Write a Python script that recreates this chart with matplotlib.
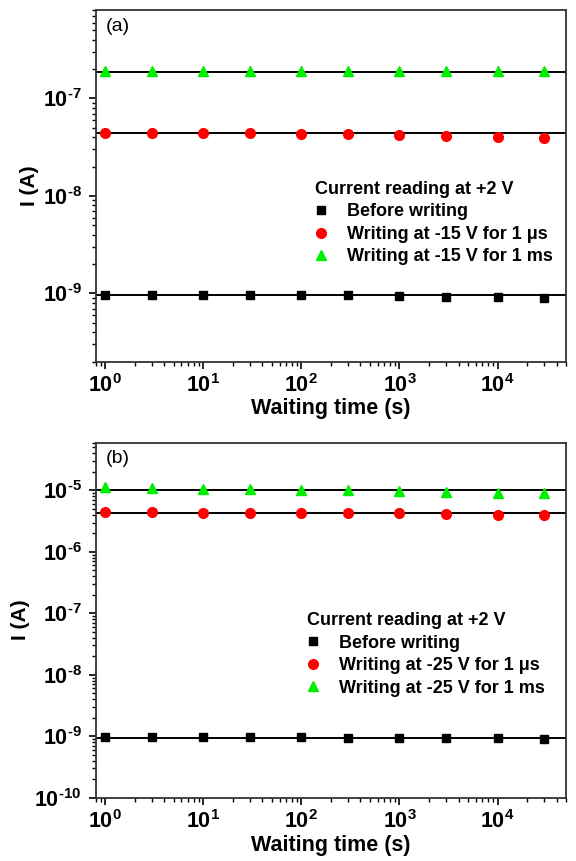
import numpy as np
import matplotlib
matplotlib.use("Agg")
import matplotlib.pyplot as plt
from matplotlib.ticker import FuncFormatter, LogLocator, NullFormatter

plt.rcParams['font.family'] = ['Liberation Sans', 'DejaVu Sans']
plt.rcParams['mathtext.fontset'] = 'custom'
plt.rcParams['mathtext.rm'] = 'Liberation Sans:bold'
plt.rcParams['mathtext.it'] = 'Liberation Sans:bold'
plt.rcParams['mathtext.bf'] = 'Liberation Sans:bold'

# ---- data ----
t = [1, 3, 10, 30, 100, 300, 1000, 3000, 10000, 30000]

a_before = [9.7e-10, 9.7e-10, 9.6e-10, 9.6e-10, 9.6e-10, 9.6e-10, 9.5e-10, 9.3e-10, 9.1e-10, 9.0e-10]
a_us = [4.4e-8, 4.4e-8, 4.4e-8, 4.4e-8, 4.35e-8, 4.3e-8, 4.25e-8, 4.15e-8, 4.05e-8, 3.95e-8]
a_ms = [1.92e-7, 1.92e-7, 1.92e-7, 1.92e-7, 1.92e-7, 1.92e-7, 1.92e-7, 1.92e-7, 1.92e-7, 1.92e-7]
a_fit = [9.6e-10, 4.4e-8, 1.85e-7]

b_before = [9.8e-10, 9.8e-10, 9.7e-10, 9.7e-10, 9.6e-10, 9.5e-10, 9.4e-10, 9.3e-10, 9.2e-10, 9.1e-10]
b_us = [4.4e-6, 4.4e-6, 4.35e-6, 4.35e-6, 4.3e-6, 4.3e-6, 4.25e-6, 4.15e-6, 4.0e-6, 3.95e-6]
b_ms = [1.12e-5, 1.1e-5, 1.07e-5, 1.05e-5, 1.02e-5, 1.0e-5, 9.6e-6, 9.4e-6, 9.0e-6, 8.9e-6]
b_fit = [9.3e-10, 4.35e-6, 1.0e-5]

legend_title = "Current reading at +2 V"
a_labels = ["Before writing", "Writing at -15 V for 1 μs", "Writing at -15 V for 1 ms"]
b_labels = ["Before writing", "Writing at -25 V for 1 μs", "Writing at -25 V for 1 ms"]

GREEN = '#00ee00'
RED = '#ff0000'

fig = plt.figure(figsize=(5.76, 8.61), dpi=100)
ax_a = fig.add_axes([0.166, 0.580, 0.817, 0.408])
ax_b = fig.add_axes([0.166, 0.0735, 0.817, 0.4125])

def logfmt(v, p):
    e = int(round(np.log10(v)))
    if e < 0:
        return r'$10^{\text{-}%d}$' % (-e)
    return r'$10^{%d}$' % e

def setup(ax, ylim, panel, before, us, ms, fit, labels, leg_anchor):
    ax.set_xscale('log')
    ax.set_yscale('log')
    for y in fit:
        ax.axhline(y, color='black', lw=1.4, zorder=1)
    ax.plot(t, before, 's', color='black', ms=5.5, ls='none', label=labels[0], zorder=3)
    ax.plot(t, us, 'o', color=RED, ms=7, ls='none', label=labels[1], zorder=3)
    ax.plot(t, ms, '^', color=GREEN, ms=7, ls='none', label=labels[2], zorder=3)
    ax.set_xlim(0.8, 5e4)
    ax.set_ylim(*ylim)
    ax.xaxis.set_major_locator(LogLocator(base=10, numticks=20))
    ax.xaxis.set_minor_locator(LogLocator(base=10, subs=np.arange(2, 10), numticks=20))
    ax.yaxis.set_major_locator(LogLocator(base=10, numticks=20))
    ax.yaxis.set_minor_locator(LogLocator(base=10, subs=np.arange(2, 10), numticks=20))
    ax.xaxis.set_major_formatter(FuncFormatter(logfmt))
    ax.yaxis.set_major_formatter(FuncFormatter(logfmt))
    ax.xaxis.set_minor_formatter(NullFormatter())
    ax.yaxis.set_minor_formatter(NullFormatter())
    ax.tick_params(which='major', direction='out', length=5, width=1.2, labelsize=15.5,
                   top=False, right=False)
    ax.tick_params(axis='y', which='major', pad=5)
    ax.tick_params(axis='x', which='major', pad=4)
    ax.tick_params(which='minor', direction='out', length=3, width=1.0, top=False, right=False)
    for s in ax.spines.values():
        s.set_linewidth(1.3)
        s.set_color('#333333')
    ax.set_xlabel('Waiting time (s)', fontsize=15.5, fontweight='bold', labelpad=1)
    ax.set_ylabel('I (A)', fontsize=15, fontweight='bold', labelpad=3)
    ax.text(0.022, 0.978, panel, transform=ax.transAxes, fontsize=14, va='top', ha='left')
    ax.legend(loc='upper left', bbox_to_anchor=leg_anchor, frameon=False,
              title=legend_title, prop={'weight': 'bold', 'size': 13},
              title_fontproperties={'weight': 'bold', 'size': 13},
              handletextpad=1.1, labelspacing=0.3, borderpad=0.0, borderaxespad=0.0,
              alignment='left', handlelength=0.7)

setup(ax_a, (2e-10, 8e-7), '(a)', a_before, a_us, a_ms, a_fit, a_labels, (0.466, 0.514))
setup(ax_b, (1e-10, 6e-5), '(b)', b_before, b_us, b_ms, b_fit, b_labels, (0.449, 0.522))

fig.savefig('out.png', dpi=100)
